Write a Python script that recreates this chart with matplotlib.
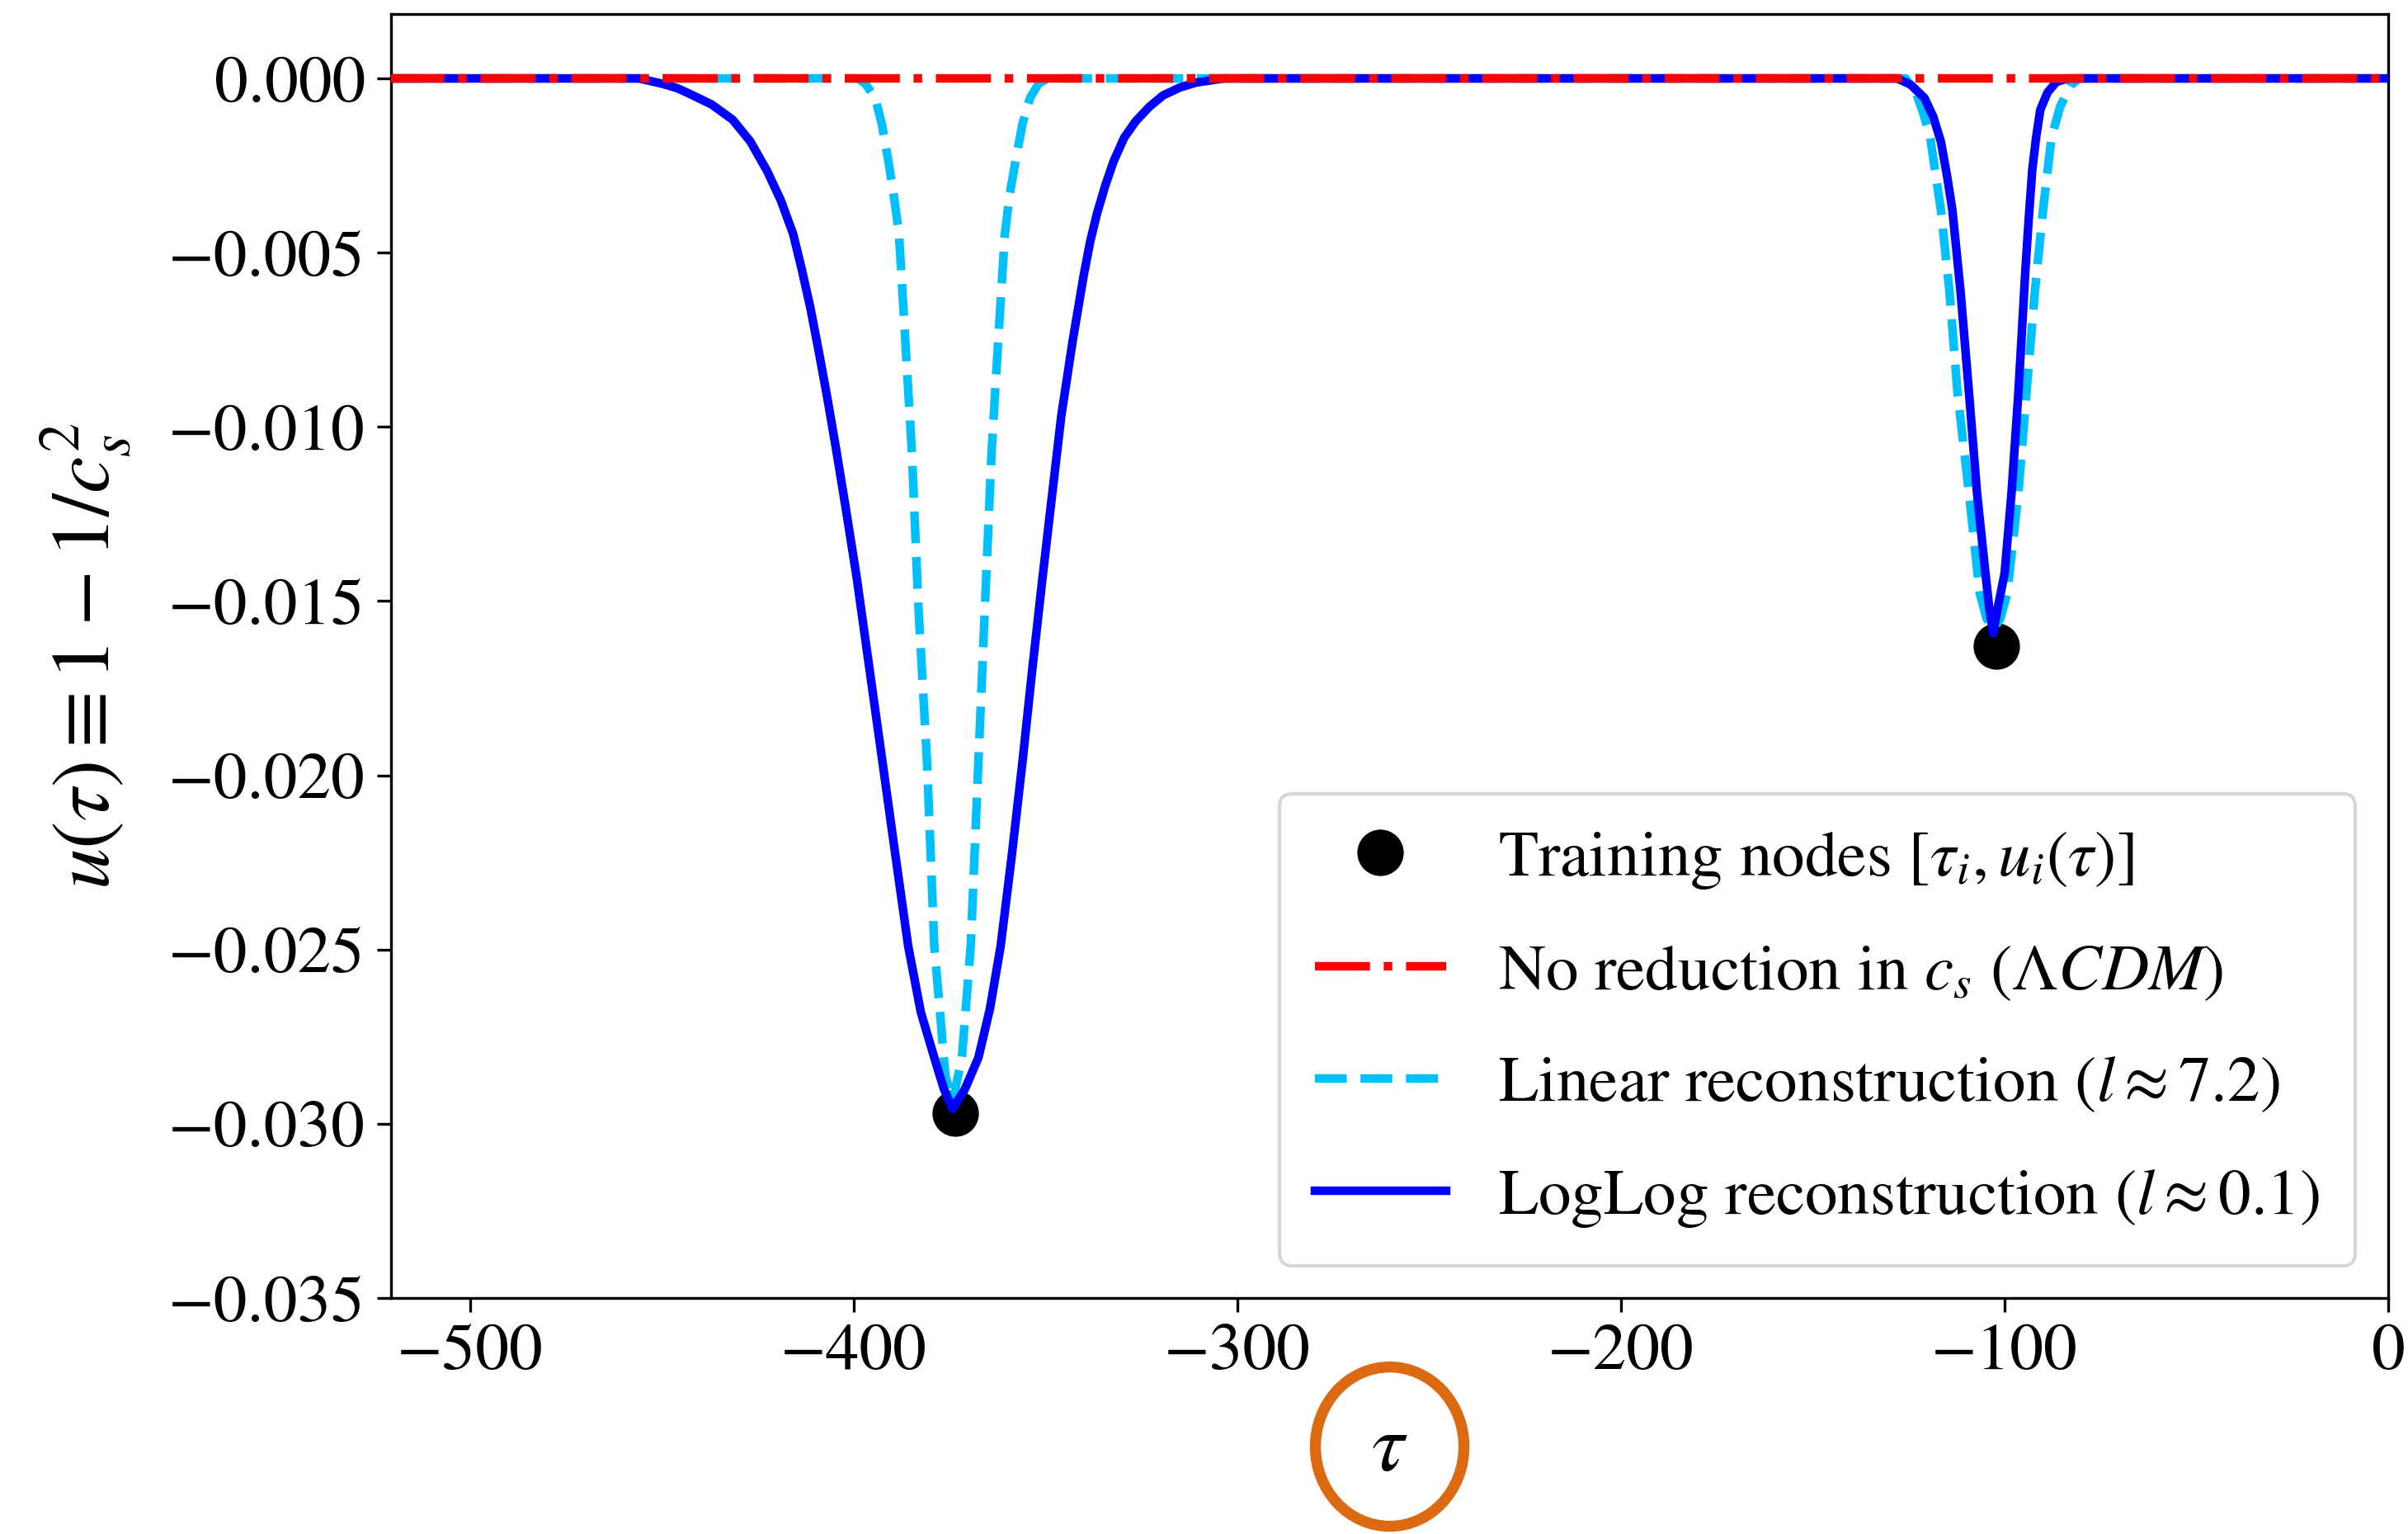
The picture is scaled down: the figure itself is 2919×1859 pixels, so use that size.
import numpy as np
import matplotlib
matplotlib.use('Agg')
import matplotlib.pyplot as plt
from matplotlib.patches import Ellipse

# 字体：Times 风格
plt.rcParams['font.family'] = ['STIXGeneral', 'DejaVu Serif']
plt.rcParams['mathtext.fontset'] = 'stix'

# 训练节点
tau_nodes = [-373.5, -102.2]
u_nodes = [-0.0297, -0.0163]

# LambdaCDM: 无声速减小
tau_lcdm = [-521, 0]
u_lcdm = [0.0, 0.0]

# 线性重建 (l ~ 7.2)
tau_lin = [-521, -398.9, -397.0, -394.4, -392.7, -391.0, -389.5, -388.2, -386.5, -384.8,
           -383.2, -380.9, -379.0, -376.1, -374.2, -371.8, -369.5, -367.5, -365.6, -364.1,
           -362.4, -360.6, -359.3, -357.8, -356.0, -354.0, -351.8, -349.5,
           -125.8, -123.0, -121.2, -119.4, -116.6, -114.4, -112.3, -109.3, -106.5, -104.7,
           -102.9, -101.1, -99.3, -96.4, -94.3, -92.1, -90.0, -87.8, -85.5, -82.8, -80.6, 0]
u_lin = [0, 0, -0.00015, -0.00055, -0.0013, -0.00235, -0.0034, -0.00446, -0.00763, -0.0108,
         -0.01504, -0.0196, -0.0249, -0.02862, -0.02936, -0.0281, -0.0249, -0.0196, -0.01464, -0.0108,
         -0.00763, -0.00446, -0.0033, -0.00235, -0.0013, -0.00055, -0.00015, 0,
         0, -0.00044, -0.001, -0.0017, -0.00379, -0.0061, -0.009, -0.01189, -0.01477, -0.0155,
         -0.0158, -0.0155, -0.01477, -0.01189, -0.009, -0.0061, -0.00379, -0.0017, -0.0008, -0.0002, 0, 0]

# LogLog 重建 (l ~ 0.1)
tau_log = [-521, -456, -450, -446, -442.8, -437, -431.6, -427, -422.6, -419, -415.8,
           -413.5, -411.3, -409, -406.8, -404.5, -402.3, -399.2, -392.5, -389, -385.8,
           -382.5, -379.0, -376.5, -374.2, -371.0, -367.5, -364.5, -361.7, -358.8, -356.0,
           -353.5, -350.8, -348.7, -345.9, -343.0, -340.1, -338.4, -336.6, -334.5, -332.3,
           -329.5, -326.5, -323, -319.4, -315, -310.8, -303.6, -296,
           -128.0, -124.5, -120.9, -118.6, -116.6, -115.0, -113.6, -111.5, -109.3, -107.2,
           -105.0, -104.0, -103.0, -101.8, -100.0, -98.2, -96.4, -94.6, -93.7, -92.8,
           -91.8, -90.7, -88.8, -86.5, -83.5, 0]
u_log = [0, 0, -0.00015, -0.00028, -0.00044, -0.00075, -0.00118, -0.0018, -0.00265, -0.0035, -0.00446,
         -0.0055, -0.00658, -0.0079, -0.00922, -0.0107, -0.01218, -0.01434, -0.01962, -0.0224, -0.0249,
         -0.0268, -0.0281, -0.0290, -0.02957, -0.0290, -0.0281, -0.0267, -0.0249, -0.0223, -0.0196,
         -0.017, -0.01434, -0.01234, -0.00969, -0.00758, -0.00568, -0.0047, -0.00388, -0.0031, -0.00239,
         -0.0017, -0.00123, -0.00082, -0.00049, -0.00026, -0.00012, 0, 0,
         0, -0.00018, -0.00056, -0.0011, -0.00182, -0.0028, -0.00379, -0.0061, -0.009, -0.01189,
         -0.0142, -0.0152, -0.01592, -0.0152, -0.0142, -0.01189, -0.009, -0.00552, -0.0040, -0.00263,
         -0.0017, -0.0009, -0.0004, -0.0001, 0, 0]

fig = plt.figure(figsize=(2919 / 300, 1859 / 300), dpi=300, facecolor='w')
ax = fig.add_axes([0.1624, 0.1538, 0.8294, 0.8371])

lw = 2.5
ax.plot(tau_nodes, u_nodes, 'o', color='k', markersize=12.5, zorder=1,
        label=r'Training nodes $[\tau_i, u_i(\tau)]$')
ax.plot(tau_lcdm, u_lcdm, '-.', color='red', linewidth=lw, zorder=4,
        label=r'No reduction in $c_s$ $(\Lambda CDM)$')
ax.plot(tau_lin, u_lin, '--', color='deepskyblue', linewidth=lw, zorder=2,
        label=r'Linear reconstruction $(l \approx 7.2)$')
ax.plot(tau_log, u_log, '-', color='blue', linewidth=lw, zorder=3,
        label=r'LogLog reconstruction $(l \approx 0.1)$')

ax.set_xlim(-520.6, 0)
ax.set_ylim(-0.035, 0.00185)
ax.set_xticks([-500, -400, -300, -200, -100, 0])
ax.set_yticks(np.arange(-0.035, 0.0001, 0.005))
ax.tick_params(labelsize=19.5, length=4)

ax.set_xlabel(r'$\tau$', fontsize=24, labelpad=9)
ax.set_ylabel(r'$u(\tau) \equiv 1 - 1/c_s^2$', fontsize=24, labelpad=10)

ax.legend(loc='lower right', fontsize=19, numpoints=1, labelspacing=0.8, borderpad=0.55)

# 手绘橙色圆圈标注 tau
circ = Ellipse((0.5, -0.1157), 0.0744, 0.124, transform=ax.transAxes, fill=False,
               edgecolor='#DC6A12', linewidth=3.2, clip_on=False)
fig.add_artist(circ)

plt.savefig('out.png', dpi=300)
